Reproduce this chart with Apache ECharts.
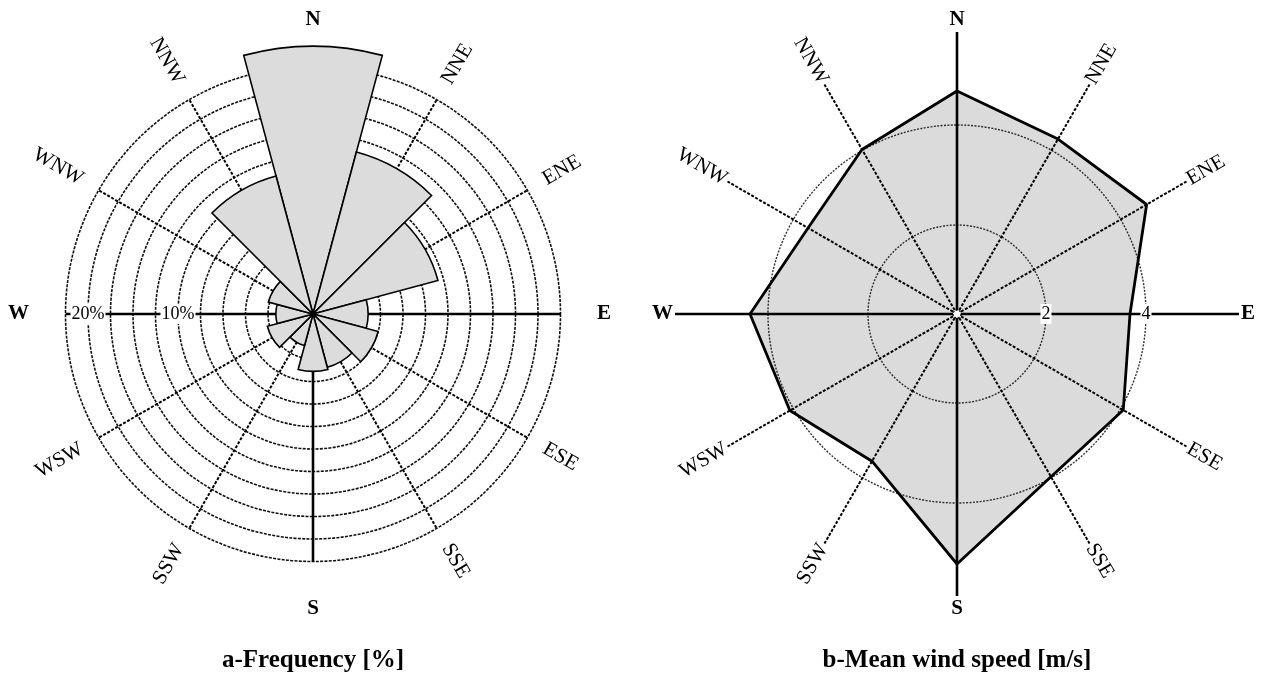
<!DOCTYPE html>
<html><head><meta charset="utf-8">
<script src="https://cdn.jsdelivr.net/npm/echarts@6/dist/echarts.min.js"></script>
<style>html,body{margin:0;padding:0;background:#fff}#c{width:1266px;height:688px}</style>
</head><body><div id="c"></div>
<script>
// ---------- data ----------
const directions = ['N','NNE','ENE','E','ESE','SSE','S','SSW','WSW','W','WNW','NNW'];
const frequency  = [23.8, 14.9, 11.5, 4.9, 6.0, 4.9, 5.1, 2.9, 4.2, 3.3, 4.1, 12.7];   // %
const meanSpeed  = [4.68, 4.26, 4.60, 3.68, 4.06, 3.98, 5.22, 3.62, 4.08, 4.36, 3.66, 4.02]; // m/s
const freqTickValues  = [12, 20];
const freqTickLabels  = ['10%', '20%'];
const speedTickValues = [2, 4];
const speedTickLabels = ['2', '4'];
const chartTitles = ['a-Frequency [%]', 'b-Mean wind speed [m/s]'];

// ---------- layout / style ----------
const FONT = '"Liberation Serif","Times New Roman",serif';
const INK = '#000';
const LEFT  = {cx: 313, cy: 314, r0: 0, r1: 247.5, min: 0,   max: 22};
const RIGHT = {cx: 957, cy: 314, r0: 4, r1: 289,   min: 0.3, max: 6};
function px2v(c, px) { return c.min + (px - c.r0) * (c.max - c.min) / (c.r1 - c.r0); }
const CARD_LEN = 282, INTER_LEN = 265, CARD_LAB = 284, INTER_LAB = 267;
const NOSTROKE = {textBorderWidth: 0, textBorderColor: 'transparent', textShadowBlur: 0, opacity: 1};

function spokeSeries(c, polarIndex, z) {
  return directions.map((d, i) => {
    const card = i % 3 === 0;
    return {
      type: 'line', coordinateSystem: 'polar', polarIndex, z, silent: true, clip: false,
      symbol: 'none', animation: false,
      data: [[px2v(c, 0), d], [px2v(c, card ? CARD_LEN : INTER_LEN), d]],
      lineStyle: card ? {color: INK, width: 2.6, type: 'solid'} : {color: INK, width: 2, type: [3, 1.6]}
    };
  });
}
function dirLabelSeries(c, polarIndex) {
  return {
    type: 'scatter', coordinateSystem: 'polar', polarIndex, z: 6, silent: true, clip: false,
    symbolSize: 0, animation: false, itemStyle: {color: INK, opacity: 1},
    data: directions.map((d, i) => {
      const a = i * 30, card = i % 3 === 0;
      let lab;
      if (card) {
        lab = [{align: 'center', verticalAlign: 'bottom'}, {align: 'left', verticalAlign: 'middle'},
               {align: 'center', verticalAlign: 'top'}, {align: 'right', verticalAlign: 'middle'}][i / 3];
        lab = Object.assign({fontWeight: 'bold', fontSize: 21, rotate: 0}, lab);
      } else if (a < 180) {
        lab = {align: 'left', verticalAlign: 'middle', rotate: 90 - a, fontSize: 21, fontWeight: 'normal'};
      } else {
        lab = {align: 'right', verticalAlign: 'middle', rotate: 270 - a, fontSize: 21, fontWeight: 'normal'};
      }
      return {
        name: d,
        value: [px2v(c, card ? CARD_LAB : INTER_LAB), d],
        label: Object.assign({show: true, position: 'inside', formatter: '{b}', color: INK, fontFamily: FONT}, NOSTROKE, lab)
      };
    })
  };
}
function tickLabelSeries(polarIndex, values, labels, dir, fontSize) {
  return {
    type: 'scatter', coordinateSystem: 'polar', polarIndex, z: 7, silent: true, clip: false,
    symbolSize: 0, animation: false, itemStyle: {color: INK, opacity: 1},
    data: values.map((v, i) => ({name: labels[i], value: [v, dir]})),
    label: Object.assign({show: true, position: 'inside', formatter: '{b}', color: INK, fontFamily: FONT, fontSize,
            backgroundColor: '#fff', padding: [1, 1]}, NOSTROKE)
  };
}

const hiddenAngle = (polarIndex) => ({
  polarIndex, type: 'category', data: directions, startAngle: 105, clockwise: true, boundaryGap: true,
  axisLine: {show: false}, axisTick: {show: false}, axisLabel: {show: false}, splitLine: {show: false}
});

const option = {
  backgroundColor: '#fff',
  animation: false,
  title: chartTitles.map((t, i) => ({
    text: t, left: i === 0 ? LEFT.cx : RIGHT.cx, top: 648, textAlign: 'center', padding: 0,
    textStyle: {fontFamily: FONT, fontSize: 25, fontWeight: 'bold', color: INK}
  })),
  polar: [
    {center: [LEFT.cx, LEFT.cy], radius: [LEFT.r0, LEFT.r1]},
    {center: [RIGHT.cx, RIGHT.cy], radius: [RIGHT.r0, RIGHT.r1]}
  ],
  angleAxis: [hiddenAngle(0), hiddenAngle(1)],
  radiusAxis: [
    {polarIndex: 0, type: 'value', min: LEFT.min, max: LEFT.max, interval: 2,
     axisLine: {show: false}, axisTick: {show: false}, axisLabel: {show: false},
     splitLine: {show: true, lineStyle: {color: '#111', width: 1.6, type: [3, 1.3]}}},
    {polarIndex: 1, type: 'value', min: RIGHT.min, max: RIGHT.max, splitNumber: 3,
     axisLine: {show: false}, axisTick: {show: false}, axisLabel: {show: false},
     splitLine: {show: true, lineStyle: {color: ['#222', '#333', '#333', 'rgba(0,0,0,0)'], width: 1.4, type: [2, 1.4]}}}
  ],
  series: [
    ...spokeSeries(LEFT, 0, 1),
    {
      type: 'bar', coordinateSystem: 'polar', polarIndex: 0, z: 2, clip: false, silent: true,
      data: frequency, barCategoryGap: '0%', barGap: '0%',
      itemStyle: {color: '#dcdcdc', borderColor: INK, borderWidth: 1.6}
    },
    dirLabelSeries(LEFT, 0),
    tickLabelSeries(0, freqTickValues, freqTickLabels, 'W', 18),
    {
      type: 'line', coordinateSystem: 'polar', polarIndex: 1, z: 1, clip: false, silent: true,
      symbol: 'none', smooth: false,
      data: meanSpeed.map((v, i) => [v, directions[i]]).concat([[meanSpeed[0], directions[0]]]),
      lineStyle: {color: INK, width: 2.8},
      areaStyle: {color: 'rgba(0,0,0,0.14)', opacity: 1}
    },
    ...spokeSeries(RIGHT, 1, 3),
    dirLabelSeries(RIGHT, 1),
    tickLabelSeries(1, speedTickValues, speedTickLabels, 'E', 18)
  ]
};
const chart = echarts.init(document.getElementById('c'), null, {renderer: 'canvas'});
chart.setOption(option);
</script>
</body></html>
